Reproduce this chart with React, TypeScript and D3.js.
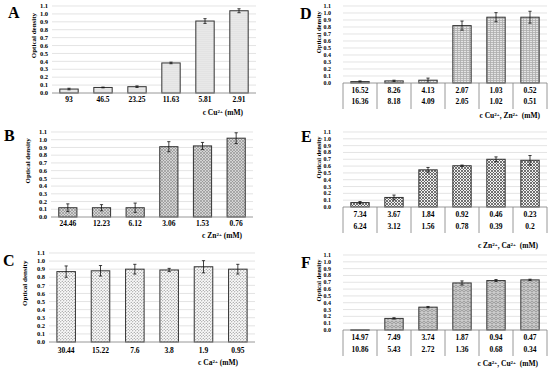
import * as d3 from "d3";

// concentrations (mM) and optical density readings
const catsA = ["93", "46.5", "23.25", "11.63", "5.81", "2.91"];
const valsA = [0.05, 0.07, 0.08, 0.38, 0.91, 1.04];
const errA = [0.01, 0.005, 0.01, 0.01, 0.03, 0.025];

const catsB = ["24.46", "12.23", "6.12", "3.06", "1.53", "0.76"];
const valsB = [0.12, 0.12, 0.12, 0.91, 0.92, 1.02];
const errB = [0.05, 0.04, 0.06, 0.065, 0.045, 0.07];

const catsC = ["30.44", "15.22", "7.6", "3.8", "1.9", "0.95"];
const valsC = [0.87, 0.88, 0.9, 0.89, 0.93, 0.9];
const errC = [0.07, 0.065, 0.06, 0.02, 0.075, 0.06];

const catsD1 = ["16.52", "8.26", "4.13", "2.07", "1.03", "0.52"];
const catsD2 = ["16.36", "8.18", "4.09", "2.05", "1.02", "0.51"];
const valsD = [0.02, 0.03, 0.04, 0.82, 0.94, 0.94];
const errD = [0.01, 0.01, 0.03, 0.065, 0.065, 0.085];

const catsE1 = ["7.34", "3.67", "1.84", "0.92", "0.46", "0.23"];
const catsE2 = ["6.24", "3.12", "1.56", "0.78", "0.39", "0.2"];
const valsE = [0.065, 0.14, 0.545, 0.605, 0.7, 0.685];
const errE = [0.015, 0.035, 0.035, 0.01, 0.035, 0.07];

const catsF1 = ["14.97", "7.49", "3.74", "1.87", "0.94", "0.47"];
const catsF2 = ["10.86", "5.43", "2.72", "1.36", "0.68", "0.34"];
const valsF = [0.003, 0.17, 0.335, 0.69, 0.725, 0.735];
const errF = [0, 0.01, 0.01, 0.03, 0.015, 0.01];

const yTicks = [0, 0.1, 0.2, 0.3, 0.4, 0.5, 0.6, 0.7, 0.8, 0.9, 1.0, 1.1];

const FONT = "'Liberation Serif', 'Times New Roman', serif";

type Panel = {
  letter: string;
  lx: number;
  ly: number;
  x0: number;
  x1: number;
  y0: number;
  y1: number;
  rows: string[][];
  rowY: number[];
  tableBottom?: number;
  vals: number[];
  errs: number[];
  fill: string;
  ions: string[];
  titleX: number;
  titleY: number;
  tickX: number;
  yTitleX: number;
};

const panels: Panel[] = [
  { letter: "A", lx: 8, ly: 18, x0: 52, x1: 256, y0: 93, y1: 6, rows: [catsA], rowY: [102], vals: valsA, errs: errA, fill: "url(#pA)", ions: ["Cu"], titleX: 243, titleY: 115, tickX: 48, yTitleX: 36 },
  { letter: "B", lx: 4, ly: 141, x0: 51, x1: 253, y0: 217, y1: 132, rows: [catsB], rowY: [226], vals: valsB, errs: errB, fill: "url(#pB)", ions: ["Zn"], titleX: 242, titleY: 238, tickX: 47, yTitleX: 30 },
  { letter: "C", lx: 3, ly: 266, x0: 49, x1: 255, y0: 342, y1: 253, rows: [catsC], rowY: [353], vals: valsC, errs: errC, fill: "url(#pC)", ions: ["Ca"], titleX: 238, titleY: 365, tickX: 45, yTitleX: 27 },
  { letter: "D", lx: 300, ly: 19, x0: 343, x1: 547, y0: 83, y1: 6, rows: [catsD1, catsD2], rowY: [93, 104], tableBottom: 109, vals: valsD, errs: errD, fill: "url(#pD)", ions: ["Cu", "Zn"], titleX: 540, titleY: 118, tickX: 331, yTitleX: 321 },
  { letter: "E", lx: 301, ly: 142, x0: 343, x1: 547, y0: 207, y1: 132, rows: [catsE1, catsE2], rowY: [217, 229], tableBottom: 233, vals: valsE, errs: errE, fill: "url(#pE)", ions: ["Zn", "Ca"], titleX: 538, titleY: 248, tickX: 331, yTitleX: 321 },
  { letter: "F", lx: 301, ly: 268, x0: 343, x1: 547, y0: 330, y1: 255, rows: [catsF1, catsF2], rowY: [340, 352], tableBottom: 356, vals: valsF, errs: errF, fill: "url(#pF)", ions: ["Ca", "Cu"], titleX: 538, titleY: 366, tickX: 331, yTitleX: 321 },
];

function PanelView({ p }: { p: Panel }) {
  const x = d3.scaleBand<number>().domain(d3.range(p.vals.length)).range([p.x0, p.x1]).paddingInner(0.46).paddingOuter(0.23);
  const band = d3.scaleBand<number>().domain(d3.range(p.vals.length)).range([p.x0, p.x1]);
  const y = d3.scaleLinear().domain([0, 1.1]).range([p.y0, p.y1]);
  const yMid = (p.y1 + p.y0) / 2 - (p.y0 - p.y1) * 0.16;
  const tickSize = p.tableBottom ? 6 : 6.5;
  return (
    <g fontFamily={FONT} fontWeight="bold">
      <text x={p.lx} y={p.ly} fontSize={16}>{p.letter}</text>
      {yTicks.map((t) => (
        <g key={t}>
          {t > 0 && <line x1={p.x0} x2={p.x1} y1={y(t)} y2={y(t)} stroke="#d9d9d9" strokeWidth={0.7} />}
          <text x={p.tickX} y={y(t)} dy="0.33em" fontSize={tickSize} textAnchor="end">{t.toFixed(1)}</text>
        </g>
      ))}
      <text transform={`translate(${p.yTitleX},${yMid}) rotate(-90)`} fontSize={p.tableBottom ? 6.5 : 7} textAnchor="middle">Optical density</text>
      {p.vals.map((v, i) => {
        const cx = x(i)! + x.bandwidth() / 2;
        const e = p.errs[i];
        return (
          <g key={i}>
            <rect x={x(i)} y={y(v)} width={x.bandwidth()} height={Math.max(0.5, p.y0 - y(v))} fill={p.fill} stroke="#333" strokeWidth={1} />
            {e > 0 && (
              <g stroke="#111" strokeWidth={0.8}>
                <line x1={cx} x2={cx} y1={y(v - e)} y2={y(v + e)} />
                <line x1={cx - 1.6} x2={cx + 1.6} y1={y(v + e)} y2={y(v + e)} />
                <line x1={cx - 1.6} x2={cx + 1.6} y1={y(v - e)} y2={y(v - e)} />
              </g>
            )}
          </g>
        );
      })}
      <line x1={p.x0} x2={p.x1} y1={p.y0} y2={p.y0} stroke="#8c8c8c" strokeWidth={0.9} />
      {p.tableBottom !== undefined &&
        d3.range(p.vals.length + 1).map((i) => {
          const xx = i < p.vals.length ? band(i)! : p.x1;
          return <line key={i} x1={xx} x2={xx} y1={p.y0} y2={p.tableBottom} stroke="#8c8c8c" strokeWidth={0.9} />;
        })}
      {p.rows.map((row, r) =>
        row.map((c, i) => (
          <text key={`${r}-${i}`} x={band(i)! + band.bandwidth() / 2} y={p.rowY[r]} fontSize={7.5} textAnchor="middle">{c}</text>
        ))
      )}
      <text x={p.titleX} y={p.titleY} fontSize={7.5} textAnchor="end">
        <tspan>c </tspan>
        {p.ions.map((ion, k) => (
          <tspan key={k}>
            <tspan>{(k > 0 ? ", " : "") + ion}</tspan>
            <tspan fontSize={5} baselineShift="super">2+</tspan>
          </tspan>
        ))}
        <tspan>{p.ions.length > 1 ? "\u00a0 (mM)" : " (mM)"}</tspan>
      </text>
    </g>
  );
}

export default function App() {
  return (
    <svg width={550} height={369} style={{ position: "absolute", left: 0, top: 0, background: "#fff" }}>
      <defs>
        <pattern id="pA" width={2} height={2} patternUnits="userSpaceOnUse">
          <rect width={2} height={2} fill="#f4f4f4" />
          <circle cx={1} cy={1} r={0.5} fill="#a8a8a8" />
        </pattern>
        <pattern id="pB" width={3} height={3} patternUnits="userSpaceOnUse">
          <rect width={3} height={3} fill="#d4d4d4" />
          <path d="M0,0 L3,3 M3,0 L0,3" stroke="#8a8a8a" strokeWidth={0.6} />
        </pattern>
        <pattern id="pC" width={3} height={3} patternUnits="userSpaceOnUse">
          <rect width={3} height={3} fill="#fafafa" />
          <circle cx={0.75} cy={0.75} r={0.6} fill="#7a7a7a" />
          <circle cx={2.25} cy={2.25} r={0.6} fill="#7a7a7a" />
        </pattern>
        <pattern id="pD" width={3} height={2} patternUnits="userSpaceOnUse">
          <rect width={3} height={2} fill="#e4e4e4" />
          <path d="M0,0.5 H3 M1.5,0.5 V2" stroke="#9a9a9a" strokeWidth={0.6} />
        </pattern>
        <pattern id="pE" width={3} height={3} patternUnits="userSpaceOnUse">
          <rect width={3} height={3} fill="#f2f2f2" />
          <path d="M0,0 L3,3 M3,0 L0,3" stroke="#5a5a5a" strokeWidth={0.85} />
        </pattern>
        <pattern id="pF" width={4} height={4} patternUnits="userSpaceOnUse">
          <rect width={4} height={4} fill="#c4c4c4" />
          <path d="M0,1 L2,3 L4,1 M0,3 L1,4 M3,4 L4,3" stroke="#8c8c8c" strokeWidth={0.6} fill="none" />
          <circle cx={2} cy={0.6} r={0.4} fill="#eee" />
        </pattern>
      </defs>
      {panels.map((p) => (
        <PanelView key={p.letter} p={p} />
      ))}
    </svg>
  );
}
